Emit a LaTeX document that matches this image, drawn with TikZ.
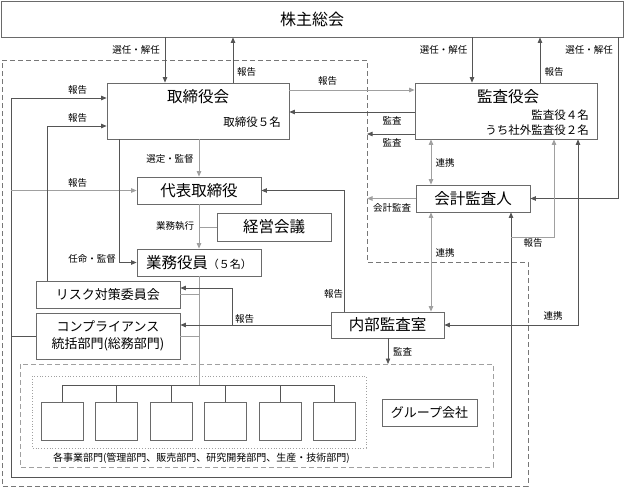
\documentclass[tikz,border=0pt]{standalone}
\usepackage{fontspec}
\setmainfont{Noto Sans CJK JP}
\usetikzlibrary{arrows.meta}
\definecolor{dk}{HTML}{555555}
\definecolor{lt}{HTML}{A0A0A0}
\definecolor{bd}{HTML}{6A6A6A}
\tikzset{
  box/.style={draw=bd, line width=0.8pt, inner sep=0pt, fill=white},
  ln/.style={draw=dk, line width=0.7pt},
  lg/.style={draw=lt, line width=0.9pt},
  arr/.style={-{Triangle[length=5.5pt,width=4.5pt]}},
  both/.style={{Triangle[length=5.5pt,width=4.5pt]}-{Triangle[length=5.5pt,width=4.5pt]}},
  lab/.style={font=\fontsize{9.5}{11}\selectfont, inner sep=0pt, text=black},
  ttl/.style={font=\fontsize{15.5}{18}\selectfont, inner sep=0pt},
  mid/.style={font=\fontsize{13}{17}\selectfont, inner sep=0pt},
  sub/.style={font=\fontsize{11.5}{14}\selectfont, inner sep=0pt},
}
\begin{document}
\begin{tikzpicture}[x=1pt,y=-1pt]
\useasboundingbox (0,0) rectangle (625,488);
% outer dashed region
\draw[draw=dk!80, dash pattern=on 5pt off 3pt, line width=0.6pt]
  (2,60) -- (367,60) -- (367,262) -- (528,262) -- (528,486) -- (2,486) -- cycle;
% gray dashed and dotted boxes
\draw[draw=lt, line width=0.8pt, dash pattern=on 5pt off 3pt] (20,364) rectangle (493,467);
\draw[draw=lt, line width=0.8pt, dotted] (32,376) rectangle (366,448);

% boxes
\node[box, minimum width=622pt, minimum height=36pt, font=\fontsize{16}{18}\selectfont] (sh) at (312,19) {株主総会};
\node[box, minimum width=182pt, minimum height=56pt] (tb) at (198,111) {};
\node[ttl] (tbt) at (198,97) {取締役会};
\node[sub, anchor=east] (tbs) at (281,122) {取締役５名};
\node[box, minimum width=182pt, minimum height=56pt] (ka) at (506,111) {};
\node[ttl] (kat) at (508,97) {監査役会};
\node[sub, anchor=east] (kas1) at (589,115) {監査役４名};
\node[sub, anchor=east] (kas2) at (589,130) {うち社外監査役２名};
\node[box, ttl, minimum width=124pt, minimum height=27pt] (dh) at (199,190.5) {代表取締役};
\node[box, ttl, minimum width=114pt, minimum height=28pt] (kk) at (274,227) {経営会議};
\node[box, ttl, minimum width=124pt, minimum height=27pt] (gy) at (199,262.5) {業務役員{\fontsize{11}{13}\selectfont（５名）}};
\node[box, mid, minimum width=144pt, minimum height=27pt] (rk) at (108,294.5) {リスク対策委員会};
\node[box, mid, align=center, minimum width=144pt, minimum height=46pt] (cp) at (108,336) {コンプライアンス\\統括部門(総務部門)};
\node[box, ttl, minimum width=114pt, minimum height=27pt] (kai) at (473,198.5) {会計監査人};
\node[box, ttl, minimum width=113pt, minimum height=26pt] (nb) at (387.5,325) {内部監査室};
\node[box, mid, minimum width=95pt, minimum height=27pt] (grp) at (429.5,412.5) {グループ会社};
\foreach \i/\x in {1/62,2/116.5,3/171.5,4/225.5,5/280.5,6/334}
  \node[box, minimum width=42pt, minimum height=38pt] (d\i) at (\x,421) {};

% helper coordinates
\coordinate (xa) at (165,0);
\coordinate (xb) at (233,0);
\coordinate (xc) at (472,0);
\coordinate (xd) at (540,0);
\coordinate (xe) at (618,0);
\coordinate (xf) at (431,0);
\coordinate (xg) at (578,0);
\coordinate (xh) at (554,0);
\coordinate (xi) at (511,0);
\coordinate (xj) at (11,0);
\coordinate (xk) at (47,0);
\coordinate (xl) at (199,0);
\coordinate (xm) at (119,0);
\coordinate (xn) at (344,0);
\coordinate (xo) at (232,0);
\coordinate (xp) at (388,0);
\coordinate (xq) at (367,0);
\coordinate (ya) at (0,90);
\coordinate (yb) at (0,112);
\coordinate (yc) at (0,134);
\coordinate (yd) at (0,98);
\coordinate (ye) at (0,126);
\coordinate (yg) at (0,477);
\coordinate (yh) at (0,237);
\coordinate (yl) at (0,288);
\coordinate (yn) at (0,385);
\coordinate (yo) at (0,364);

% connectors
\draw[ln,arr] (sh.south -| xa) -- (tb.north -| xa);
\draw[ln,arr] (tb.north -| xb) -- (sh.south -| xb);
\draw[ln,arr] (sh.south -| xc) -- (ka.north -| xc);
\draw[ln,arr] (ka.north -| xd) -- (sh.south -| xd);
\draw[ln,arr] (sh.south -| xe) |- (kai.east);
\draw[lg,arr] (tb.east |- ya) -- (ka.west |- ya);
\draw[ln,arr] (ka.west |- yb) -- (tb.east |- yb);
\draw[ln,arr] (ka.west |- yc) -- (xq |- yc);
\draw[lg,both] (ka.south -| xf) -- (kai.north -| xf);
\draw[lg,arr] (kai.west) -- (kai.west -| xq);
\draw[lg,both] (kai.south -| xf) -- (nb.north -| xf);
\draw[ln,both] (ka.south -| xg) |- (nb.east);
% compliance report loop
\draw[ln,arr] (cp.west) -| (xj |- yd) -- (tb.west |- yd);
\draw[ln,arr] (xj |- cp.west) |- (xi |- yg) -- (kai.south -| xi);
\draw[lg,arr] (xj |- dh.west) -- (dh.west);
\draw[lg,arr] (xi |- yh) -| (ka.south -| xh);
% risk report
\draw[ln,arr] (rk.north -| xk) |- (tb.west |- ye);
% executive lines
\draw[lg,arr] (tb.south -| xl) -- (dh.north -| xl);
\draw[lg,arr] (dh.south -| xl) -- (gy.north -| xl);
\draw[lg] (kk.west) -- (kk.west -| xl);
\draw[ln,arr] (tb.south -| xm) |- (gy.west);
\draw[lg] (gy.south -| xl) -- (xl |- yn);
\draw[lg] (rk.east) -- (rk.east -| xl);
\draw[lg] (cp.east) -- (cp.east -| xl);
% internal audit
\draw[ln,arr] (nb.north -| xn) |- (dh.east);
\draw[ln,arr] (nb.west) -- (cp.east |- nb.west);
\draw[ln,arr] (xo |- nb.west) |- (rk.east |- yl);
\draw[ln,arr] (nb.south -| xp) -- (xp |- yo);
% department tree
\draw[ln] (d1.north |- yn) -- (d6.north |- yn);
\foreach \i in {1,...,6} \draw[ln] (d\i.north) -- (d\i.north |- yn);

% labels
\node[lab] (l1) at (136,50) {選任・解任};
\node[lab] (l2) at (246.5,72) {報告};
\node[lab] (l3) at (443.5,50) {選任・解任};
\node[lab] (l4) at (554,72) {報告};
\node[lab] (l5) at (589,50) {選任・解任};
\node[lab] (l6) at (327.5,81) {報告};
\node[lab] (l7) at (392,121) {監査};
\node[lab] (l8) at (392,143) {監査};
\node[lab] (l9) at (445,163) {連携};
\node[lab] (l10) at (392,208) {会計監査};
\node[lab] (l11) at (445,253) {連携};
\node[lab] (l12) at (553,316) {連携};
\node[lab] (l13) at (77.5,90) {報告};
\node[lab] (l14) at (77.5,118) {報告};
\node[lab] (l15) at (77.5,183) {報告};
\node[lab] (l16) at (533,243) {報告};
\node[lab] (l17) at (170,159) {選定・監督};
\node[lab] (l18) at (175,226) {業務執行};
\node[lab] (l19) at (92,259) {任命・監督};
\node[lab] (l20) at (333.5,294) {報告};
\node[lab] (l21) at (244.5,319) {報告};
\node[lab] (l22) at (402.5,352) {監査};
\node[lab, font=\fontsize{10}{12}\selectfont] (dept) at (201.5,458) {各事業部門(管理部門、販売部門、研究開発部門、生産・技術部門)};
\end{tikzpicture}
\end{document}
